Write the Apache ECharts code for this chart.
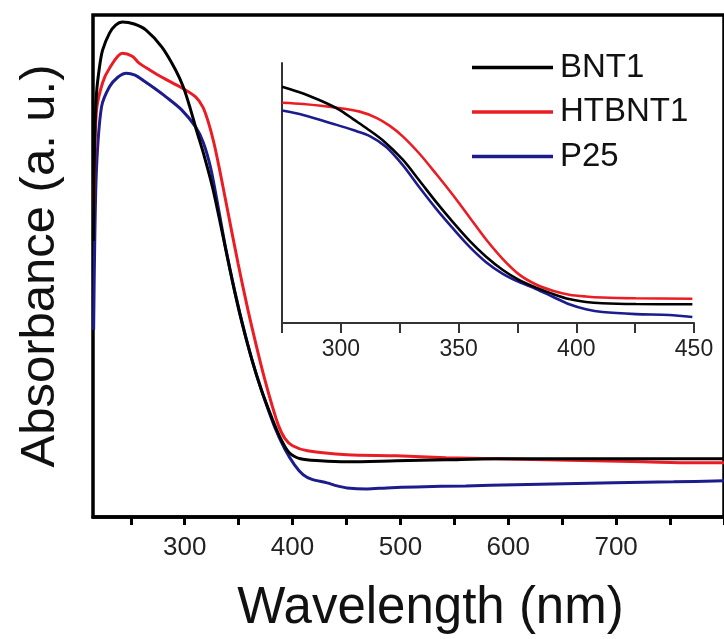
<!DOCTYPE html>
<html><head><meta charset="utf-8">
<script src="https://cdn.jsdelivr.net/npm/echarts@6/dist/echarts.min.js"></script>
<style>html,body{margin:0;padding:0;background:#fff}#c{width:724px;height:639px}</style>
</head><body><div id="c"></div><script>
// ---- data (wavelength nm, absorbance a.u.) ----
var seriesNames = ['BNT1', 'HTBNT1', 'P25'];
var seriesColors = ['#000000', '#ec1c24', '#1c1c8c'];

var mainTicks = [250, 300, 350, 400, 450, 500, 550, 600, 650, 700, 750, 800];
var mainLabels = [300, 400, 500, 600, 700];
var insetTicks = [275, 300, 325, 350, 375, 400, 425, 450];
var insetLabels = [300, 350, 400, 450];

var bnt1Main = [[215.3,55],[216.5,75],[218.3,84.5],[221,89.6],[223.9,93.0],[230.3,96.4],[236,98.0],[242.2,98.6],[253.2,98.2],[264.2,97.0],[278.9,93.6],[291.7,89.0],[299,85.5],[305,81.5],[311,77],[318,72],[326,65.5],[335,56.5],[344,47.2],[353,38.8],[362,31.6],[371,25.4],[380,20.2],[389,15.6],[397,12.8],[407.3,11.6],[425.7,11.2],[450.5,11.0],[496.3,11.2],[542.2,11.4],[588,11.6],[634,11.6],[680,11.6],[725.7,11.6],[771.6,11.6],[800,11.6]];
var htbnt1Main = [[215.3,58],[216.5,69.7],[218.3,81.1],[223.9,86.5],[230.3,89.4],[242.2,92.4],[251.4,91.8],[257.8,90.4],[268,89.0],[278.9,87.6],[297.2,85.5],[310.1,83.7],[317,81.6],[322,78.6],[327,74.6],[332,69.6],[338.5,62.5],[349.5,50.5],[358.7,41.2],[367,33.6],[374,27.6],[380.5,22.6],[387,18.2],[393,15.6],[400,14.2],[413.8,13.2],[450.5,12.4],[496.3,12.2],[542.2,11.8],[588,11.6],[634,11.4],[680,11.2],[725.7,11.0],[771.6,10.8],[800,10.8]];
var p25Main = [[215.6,37.3],[216.5,53.2],[218.3,69.7],[222.9,81.7],[230.3,85.7],[238,87.6],[245.9,88.4],[254,88.0],[262,86.9],[272,85.4],[282.6,83.7],[297.2,81.1],[310.1,77.7],[317.4,74.5],[323.9,69.7],[329.4,63.7],[337.6,54.0],[346.8,44.6],[356,36.4],[365.1,29.3],[374.3,23.3],[383.5,17.9],[392.7,13.6],[401.8,10.4],[410,8.4],[418,7.5],[432.1,6.8],[441.3,6.2],[450.5,5.8],[468.8,5.6],[487.2,5.8],[514.7,6.0],[560.6,6.2],[606.4,6.4],[652.3,6.6],[698.2,6.8],[753.2,7.0],[800,7.2]];

var bnt1Inset = [[275,90.9],[284,88.3],[292.5,85.1],[299.6,81.9],[305.2,78.4],[310.9,74.9],[317.9,70.2],[326.4,62.7],[333.5,54.6],[340.6,46.4],[347.6,38.8],[354.7,31.6],[361.7,25.5],[368.8,20.4],[375.8,16.5],[382.9,13.6],[390,11.2],[397,9.2],[404.1,8.1],[411.1,7.6],[425.3,7.3],[449.3,7.2]];
var htbnt1Inset = [[275,84.7],[284,84.2],[298.2,82.8],[308,81.3],[315.1,78.9],[320.8,75.8],[326.4,71.7],[333.5,65.0],[340.6,57.2],[347.6,49.2],[354.7,40.6],[361.7,32.1],[368.8,24.6],[375.8,18.6],[382.9,14.8],[390,12.4],[397,10.9],[404,10.2],[411.1,9.8],[425.3,9.5],[449.3,9.3]];
var p25Inset = [[275,81.7],[284,80.0],[298.2,76.2],[305.2,74.2],[312.3,71.9],[319.4,67.6],[326.4,60.6],[333.5,52.0],[340.6,43.8],[347.6,36.4],[354.7,29.3],[361.7,23.4],[368.8,18.9],[375.8,15.7],[382.9,13.1],[390,10.1],[397,7.2],[404.1,5.3],[411.1,4.2],[425.3,3.4],[439.4,3.1],[449.3,2.3]];

var mainData = [bnt1Main, htbnt1Main, p25Main];
var insetData = [bnt1Inset, htbnt1Inset, p25Inset];

var FONT = 'Liberation Sans, Arial, sans-serif';
var chart = echarts.init(document.getElementById('c'), null, {renderer: 'canvas'});

var series = [];
for (var i = 0; i < 3; i++) {
  series.push({
    name: seriesNames[i], type: 'line', xAxisIndex: 0, yAxisIndex: 0,
    data: mainData[i], showSymbol: false, symbol: 'none', smooth: 0.3, z: 3 - i + 2,
    lineStyle: {color: seriesColors[i], width: 3}, itemStyle: {color: seriesColors[i]},
    silent: true, animation: false
  });
}
for (var j = 0; j < 3; j++) {
  series.push({
    name: seriesNames[j], type: 'line', xAxisIndex: 1, yAxisIndex: 1,
    data: insetData[j], showSymbol: false, symbol: 'none', smooth: 0.3, z: 3 - j + 2,
    lineStyle: {color: seriesColors[j], width: 2.6}, itemStyle: {color: seriesColors[j]},
    silent: true, animation: false
  });
}

var option = {
  animation: false,
  backgroundColor: '#ffffff',
  textStyle: {fontFamily: FONT},
  grid: [
    {left: 93, top: 15, right: -7, bottom: 122, show: true, borderColor: '#000', borderWidth: 3.5, backgroundColor: 'transparent'},
    {left: 282, top: 63, width: 412, height: 260, show: false}
  ],
  legend: {
    data: seriesNames, orient: 'vertical', left: 467, top: 46,
    icon: 'rect', itemWidth: 81, itemHeight: 3.5, itemGap: 11.5,
    textStyle: {fontSize: 33, fontFamily: FONT, color: '#111', lineHeight: 33, padding: [0, 0, 0, 2]},
    selectedMode: false
  },
  xAxis: [
    {
      type: 'value', gridIndex: 0, min: 215, max: 800,
      name: 'Wavelength (nm)', nameLocation: 'middle', nameGap: 66,
      nameTextStyle: {fontSize: 51, color: '#111', fontFamily: FONT, padding: [0, 0, 0, 44]},
      axisLine: {show: true, lineStyle: {color: '#000', width: 3.5}},
      axisTick: {show: true, inside: false, length: 8, lineStyle: {color: '#000', width: 3}, customValues: mainTicks},
      axisLabel: {show: true, fontSize: 26, color: '#222', margin: 18, fontFamily: FONT, customValues: mainLabels},
      splitLine: {show: false}
    },
    {
      type: 'value', gridIndex: 1, min: 275, max: 450,
      axisLine: {show: true, lineStyle: {color: '#333', width: 2}},
      axisTick: {show: true, inside: false, length: 10, lineStyle: {color: '#333', width: 2}, customValues: insetTicks},
      axisLabel: {show: true, fontSize: 23, color: '#222', margin: 15, fontFamily: FONT, customValues: insetLabels},
      splitLine: {show: false}
    }
  ],
  yAxis: [
    {
      type: 'value', gridIndex: 0, min: 0, max: 100,
      name: 'Absorbance (a. u.)', nameLocation: 'middle', nameGap: 28,
      nameTextStyle: {fontSize: 49, color: '#111', fontFamily: FONT},
      axisLine: {show: false}, axisTick: {show: false}, axisLabel: {show: false}, splitLine: {show: false}
    },
    {
      type: 'value', gridIndex: 1, min: 0, max: 100,
      axisLine: {show: true, lineStyle: {color: '#333', width: 2}},
      axisTick: {show: false}, axisLabel: {show: false}, splitLine: {show: false}
    }
  ],
  series: series
};
chart.setOption(option);
</script></body></html>
